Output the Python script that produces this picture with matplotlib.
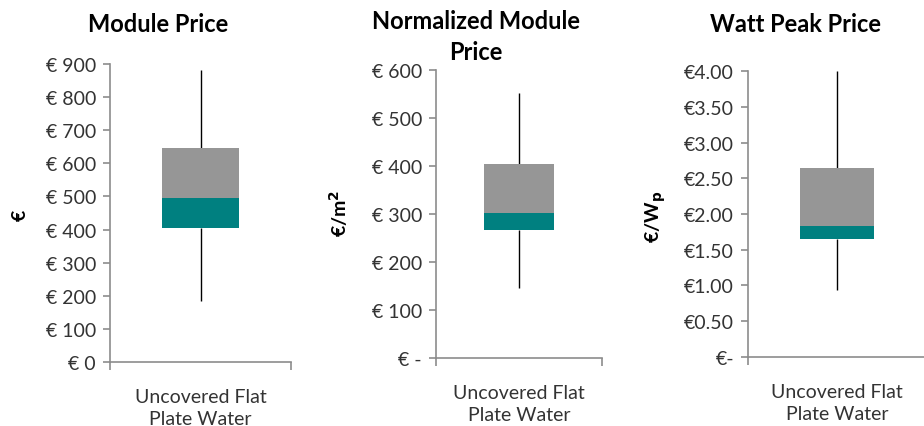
import matplotlib
matplotlib.use("Agg")
import matplotlib.pyplot as plt
from matplotlib.ticker import FuncFormatter, FixedLocator

plt.rcParams['font.family'] = ['Lato', 'DejaVu Sans']

categories = ["Uncovered Flat\nPlate Water"]

module_price = {"min": 183, "q1": 405, "median": 495, "q3": 645, "max": 882}
normalized_price = {"min": 145, "q1": 267, "median": 302, "q3": 403, "max": 551}
watt_peak_price = {"min": 0.94, "q1": 1.65, "median": 1.83, "q3": 2.65, "max": 4.00}

titles = ["Module Price", "Normalized Module\nPrice", "Watt Peak Price"]
ylabels = ["€", "€/m$^\\mathbf{2}$", "€/W$_\\mathbf{p}$"]

TEAL = "#008080"
GRAY = "#969696"
AXC = "#8c8c8c"
TXT = "#333333"

fig = plt.figure(figsize=(9.24, 4.27), dpi=100)
W, H = 924, 427

def add_ax(left, right, bottom_px, top_px_val):
    b = 1 - bottom_px / H
    t = 1 - top_px_val / H
    return fig.add_axes([left / W, b, (right - left) / W, t - b])

specs = [
    (110, 291, 363, 65, 900, 100, lambda v, p: "€ 0" if v == 0 else f"€ {v:.0f}"),
    (436, 602, 359, 70.7, 600, 100, lambda v, p: "€ -" if v == 0 else f"€ {v:.0f}"),
    (748, 926, 357.7, 72.3, 4.0, 0.5, lambda v, p: "€-" if v == 0 else f"€{v:.2f}"),
]
datasets = [module_price, normalized_price, watt_peak_price]

for i, ((l, r, bp, tp, ymax, step, fmt), d) in enumerate(zip(specs, datasets)):
    ax = add_ax(l, r, bp, tp)
    x = range(len(categories))
    ax.bar(x, [d["median"] - d["q1"]], bottom=[d["q1"]], width=0.42, color=TEAL, zorder=2)
    ax.bar(x, [d["q3"] - d["median"]], bottom=[d["median"]], width=0.42, color=GRAY, zorder=2)
    ax.vlines(x, [d["q3"]], [d["max"]], color="black", lw=1.0, zorder=1)
    ax.vlines(x, [d["min"]], [d["q1"]], color="black", lw=1.0, zorder=1)
    ax.set_xlim(-0.5, 0.5)
    ax.set_ylim(0, ymax)
    n = int(round(ymax / step))
    ax.yaxis.set_major_locator(FixedLocator([k * step for k in range(n + 1)]))
    ax.yaxis.set_major_formatter(FuncFormatter(fmt))
    ax.set_xticks(list(x))
    ax.set_xticklabels(categories, fontsize=14, color=TXT, linespacing=1.35)
    ax.set_xticks([-0.5, 0.5], minor=True)
    ax.tick_params(axis="x", which="major", length=0, pad=19)
    ax.tick_params(axis="x", which="minor", length=6, color=AXC, width=1.2, direction="out")
    ax.tick_params(axis="y", length=5, color=AXC, width=1.2, labelsize=14, labelcolor=TXT, pad=5)
    for s in ("top", "right"):
        ax.spines[s].set_visible(False)
    for s in ("left", "bottom"):
        ax.spines[s].set_color(AXC)
        ax.spines[s].set_linewidth(1.2)
    ax.set_facecolor("none")

# titles
fig.text(158.5 / W, 1 - 25 / H, titles[0], ha="center", va="center", fontsize=17, fontweight="bold", color="black")
fig.text(476 / W, 1 - 37 / H, titles[1], ha="center", va="center", fontsize=17, fontweight="bold", color="black", linespacing=1.45)
fig.text(796 / W, 1 - 25 / H, titles[2], ha="center", va="center", fontsize=17, fontweight="bold", color="black")

# y labels
for xpx, ypx, lab in [(20, 215, ylabels[0]), (339, 213, ylabels[1]), (656, 217, ylabels[2])]:
    fig.text(xpx / W, 1 - ypx / H, lab, ha="center", va="center", rotation=90,
             fontsize=14, fontweight="bold", color="black")

fig.savefig("out.png", dpi=100)
